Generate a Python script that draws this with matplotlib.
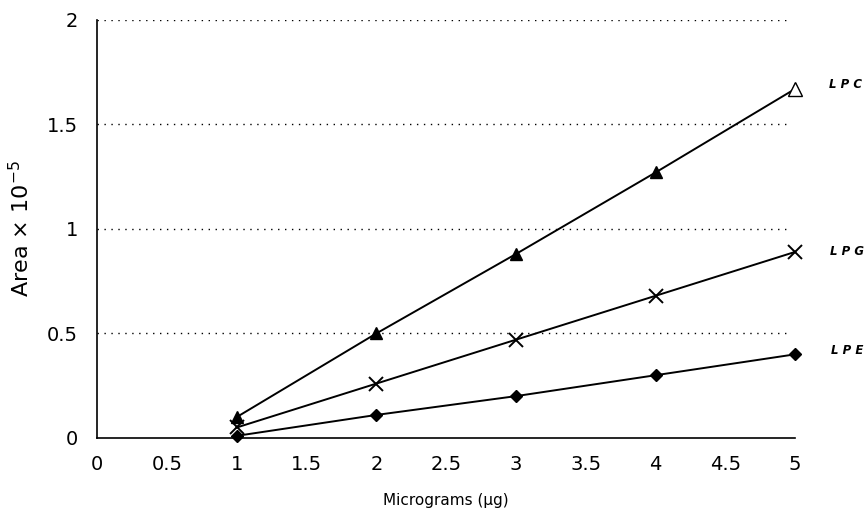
import matplotlib.pyplot as plt

# quantidade injetada (microgramas)
x = [1, 2, 3, 4, 5]
# area x 10^-5 para cada fosfolipidio
lpc = [0.10, 0.50, 0.88, 1.27, 1.67]
lpg = [0.05, 0.26, 0.47, 0.68, 0.89]
lpe = [0.01, 0.11, 0.20, 0.30, 0.40]

xticks = [0, 0.5, 1, 1.5, 2, 2.5, 3, 3.5, 4, 4.5, 5]
xticklabels = ['0', '0.5', '1', '1.5', '2', '2.5', '3', '3.5', '4', '4.5', '5']
yticks = [0, 0.5, 1, 1.5, 2]
yticklabels = ['0', '0.5', '1', '1.5', '2']

fig = plt.figure(figsize=(8.68, 5.11), dpi=100)
ax = fig.add_axes([0.112, 0.143, 0.804, 0.818])

ax.plot(x, lpc, color='black', lw=1.4, marker='^', ms=9, mfc='black', mec='black', zorder=3, clip_on=False)
ax.plot(x[-1], lpc[-1], marker='^', ms=10, mfc='white', mec='black', zorder=4, clip_on=False)
ax.plot(x, lpg, color='black', lw=1.4, marker='x', ms=10, mew=1.4, zorder=3, clip_on=False)
ax.plot(x, lpe, color='black', lw=1.4, marker='D', ms=6, mfc='black', mec='black', zorder=3, clip_on=False)

for yv in yticks[1:]:
    ax.plot([0, 4.95], [yv, yv], color='black', lw=1.0, ls=(0, (1, 4)), zorder=1)

ax.set_xlim(0, 5)
ax.set_ylim(0, 2)
ax.set_xticks(xticks)
ax.set_xticklabels(xticklabels, fontsize=14)
ax.set_yticks(yticks)
ax.set_yticklabels(yticklabels, fontsize=14)
ax.tick_params(axis='x', length=0, pad=12)
ax.tick_params(axis='y', length=0, pad=14)
ax.spines['top'].set_visible(False)
ax.spines['right'].set_visible(False)
ax.spines['left'].set_linewidth(1.2)
ax.spines['bottom'].set_linewidth(1.2)

ax.set_ylabel(r'Area $\times$ 10$^{\mathregular{-5}}$', fontsize=16, labelpad=10)
ax.set_xlabel('Micrograms (μg)', fontsize=11, labelpad=14)

labels = ['LPC', 'LPG', 'LPE']
series = [lpc, lpg, lpe]
offsets = [0.02, 0.0, 0.02]
xpos = [5.24, 5.25, 5.26]
for lab, s, off, xp in zip(labels, series, offsets, xpos):
    ax.text(xp, s[-1] + off, ' '.join(lab), fontsize=8.5, fontweight='bold',
            fontstyle='italic', va='center', ha='left', clip_on=False)

fig.savefig('out.png', dpi=100)
